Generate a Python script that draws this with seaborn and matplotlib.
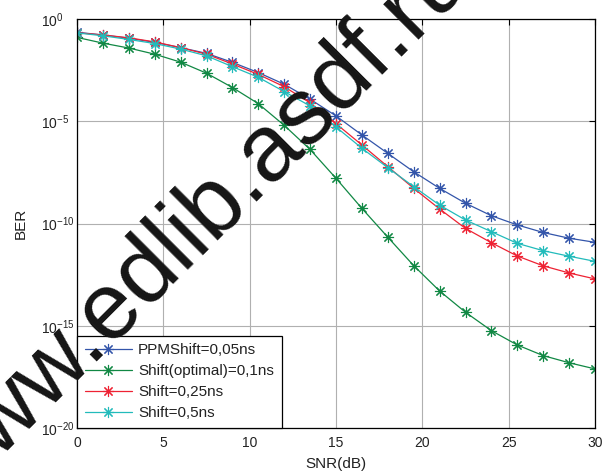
import numpy as np
import pandas as pd
import matplotlib
matplotlib.use("Agg")
import matplotlib.pyplot as plt
import seaborn as sns
from matplotlib.ticker import FixedLocator, FuncFormatter, NullLocator

# ---- data (log10 of BER) ----
snr_db = [0, 1.5, 3, 4.5, 6, 7.5, 9, 10.5, 12, 13.5, 15, 16.5, 18, 19.5, 21, 22.5, 24, 25.5, 27, 28.5, 30]

log_ber_005 = [-0.65, -0.78, -0.94, -1.14, -1.40, -1.68, -2.12, -2.62, -3.19, -3.92, -4.74,
               -5.67, -6.57, -7.47, -8.28, -9.01, -9.62, -10.07, -10.44, -10.72, -10.92]
log_ber_01 = [-0.90, -1.18, -1.42, -1.72, -2.11, -2.65, -3.35, -4.14, -5.20, -6.38, -7.79,
              -9.26, -10.67, -12.06, -13.30, -14.34, -15.24, -15.94, -16.46, -16.81, -17.11]
log_ber_025 = [-0.67, -0.78, -0.92, -1.12, -1.40, -1.72, -2.20, -2.71, -3.31, -4.10, -5.12,
               -6.16, -7.22, -8.28, -9.29, -10.24, -10.94, -11.59, -12.07, -12.42, -12.71]
log_ber_05 = [-0.68, -0.82, -1.00, -1.20, -1.47, -1.80, -2.33, -2.85, -3.55, -4.25, -5.28,
              -6.32, -7.27, -8.20, -9.10, -9.83, -10.40, -10.97, -11.33, -11.60, -11.85]

series_labels = ["PPMShift=0,05ns", "Shift(optimal)=0,1ns", "Shift=0,25ns", "Shift=0,5ns"]
series_logs = [log_ber_005, log_ber_01, log_ber_025, log_ber_05]
series_colors = ["#3355AA", "#118844", "#EE2233", "#22BBBB"]

y_ticks = [1e-20, 1e-15, 1e-10, 1e-5, 1e0]
x_ticks = [0, 5, 10, 15, 20, 25, 30]

watermark = "www.edlib.asdf.ru"

# ---- build long table ----
rows = []
for lab, lg in zip(series_labels, series_logs):
    for x, v in zip(snr_db, lg):
        rows.append({"snr": x, "ber": 10.0 ** v, "series": lab})
df = pd.DataFrame(rows)

sns.set_theme(style="white")
plt.rcParams["font.family"] = ["Liberation Sans", "DejaVu Sans"]
plt.rcParams["mathtext.fontset"] = "custom"
plt.rcParams["mathtext.rm"] = "Liberation Sans"
plt.rcParams["mathtext.it"] = "Liberation Sans:italic"
plt.rcParams["mathtext.bf"] = "Liberation Sans:bold"

W, H = 608, 474
fig = plt.figure(figsize=(W / 100, H / 100), dpi=100)
ax = fig.add_axes([77 / W, 1 - 428 / H, (595 - 77) / W, (428 - 19) / H])

asterisk = (8, 2, 0)
for lab, col in zip(series_labels, series_colors):
    sns.lineplot(data=df[df["series"] == lab], x="snr", y="ber", ax=ax,
                 color=col, linewidth=0.9, marker=asterisk, markersize=8,
                 markeredgecolor=col, markeredgewidth=0.8, label=lab)

ax.set_yscale("log")
ax.set_xlim(0, 30)
ax.set_ylim(1e-20, 1)
ax.yaxis.set_major_locator(FixedLocator(y_ticks))
ax.yaxis.set_minor_locator(NullLocator())
ax.yaxis.set_major_formatter(FuncFormatter(lambda v, p: r"$10^{%d}$" % int(round(np.log10(v)))))
ax.xaxis.set_major_locator(FixedLocator(x_ticks))

ax.grid(True, which="major", color="#b0b0b0", linewidth=0.8)
for s in ax.spines.values():
    s.set_color("black")
    s.set_linewidth(0.9)
ax.tick_params(direction="in", top=True, right=True, length=4, width=0.8,
               colors="black", labelcolor="#222222", labelsize=10)
ax.tick_params(axis="x", pad=6)
ax.tick_params(axis="y", pad=26)
for lbl in ax.get_yticklabels():
    lbl.set_horizontalalignment("left")

ax.set_xlabel("SNR(dB)", fontsize=11, color="#222222", labelpad=5)
ax.set_ylabel("BER", fontsize=11, color="#222222")
ax.yaxis.set_label_coords(-(77 - 28) / (595 - 77), 0.5)

leg = ax.legend(loc="lower left", bbox_to_anchor=(0, 0), borderaxespad=0,
                frameon=True, fancybox=False, edgecolor="black", framealpha=1,
                fontsize=11, handlelength=3.1, labelspacing=0.46, handletextpad=0.4,
                borderpad=0.5)
leg.get_frame().set_linewidth(0.9)
for t in leg.get_texts():
    t.set_color("#222222")

# watermark overlay
x0, y0 = -50.0, -34.0
fig.text(x0 / W, y0 / H, watermark, rotation=45, rotation_mode="anchor",
         ha="left", va="baseline", fontsize=68, family="Liberation Sans",
         color="#151515", zorder=20)

fig.savefig("out.png", dpi=100)
